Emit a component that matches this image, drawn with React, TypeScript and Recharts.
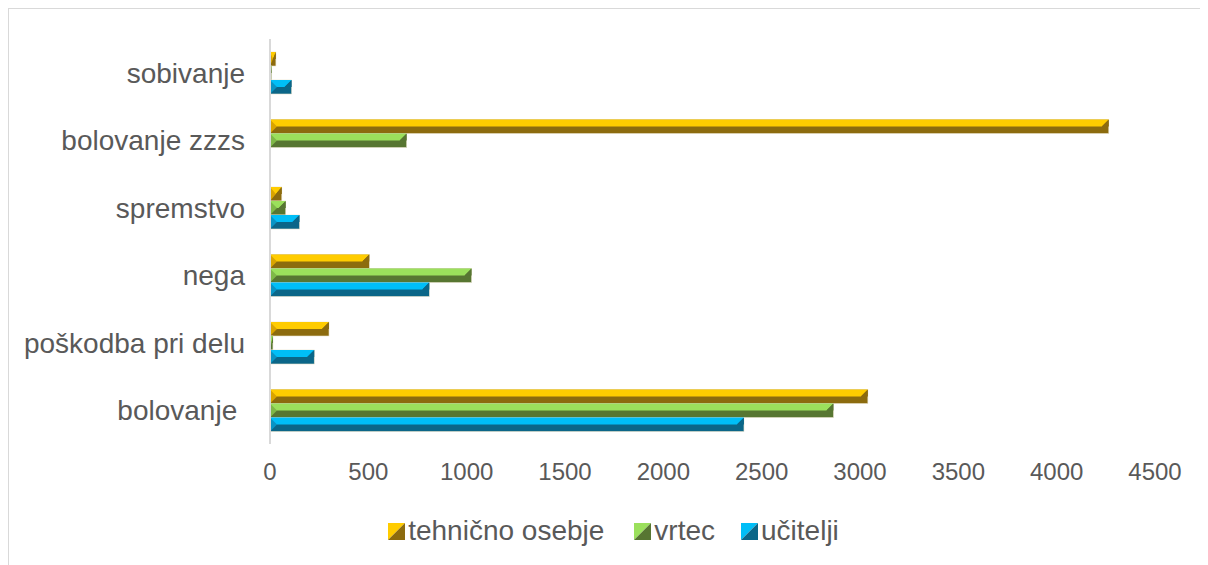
import React from 'react';
import { BarChart, Bar, XAxis, YAxis, Legend } from 'recharts';

const categories = ['sobivanje', 'bolovanje zzzs', 'spremstvo', 'nega', 'poškodba pri delu', 'bolovanje\u00A0'];
const tehnicnoOsebje = [30, 4265, 60, 505, 300, 3040];
const vrtec = [8, 695, 80, 1025, 15, 2865];
const ucitelji = [110, 0, 150, 810, 225, 2410];
const xTicks = [0, 500, 1000, 1500, 2000, 2500, 3000, 3500, 4000, 4500];

const seriesNames = ['tehnično osebje', 'vrtec', 'učitelji'];
const palette = [
  { light: '#FFCC00', dark: '#8C6B0E', mid: '#D9A400' },
  { light: '#9BE05C', dark: '#577632', mid: '#7FB848' },
  { light: '#00BEF7', dark: '#0B6688', mid: '#0894C4' },
];

const data = categories.map((c, i) => ({
  name: c,
  teh: tehnicnoOsebje[i],
  vrtec: vrtec[i],
  uc: ucitelji[i],
}));

const FONT = '"Liberation Sans", Arial, sans-serif';
const TEXT = '#595959';

const makeShape = (p: { light: string; dark: string; mid: string }) => (props: any) => {
  const { x, y, width, height } = props;
  if (!width || width <= 0) return <g />;
  const h = height;
  const b = Math.min(h / 2, width / 2);
  const mY = y + h / 2;
  return (
    <g>
      <rect x={x} y={y} width={width} height={h} fill={p.dark} stroke="#e6e0c8" strokeWidth={0.6} />
      <polygon points={`${x},${y} ${x + width},${y} ${x + width - b},${mY} ${x},${mY}`} fill={p.light} />
      <polygon points={`${x + width},${y} ${x + width},${mY} ${x + width - b},${mY}`} fill={p.dark} />
      <polygon points={`${x},${y} ${x + b},${mY} ${x},${y + h}`} fill={p.mid} />
    </g>
  );
};

const LegendIcon = ({ p }: { p: { light: string; dark: string } }) => (
  <svg width={17} height={17} style={{ marginRight: 3 }}>
    <polygon points="0,0 17,0 0,17" fill={p.light} />
    <polygon points="17,0 17,17 0,17" fill={p.dark} />
  </svg>
);

const legendGaps = [30, 26, 0];

const renderLegend = () => (
  <div style={{ height: 32, paddingLeft: 10, display: 'flex', justifyContent: 'center', alignItems: 'center', fontFamily: FONT, fontSize: 28, color: TEXT }}>
    {seriesNames.map((n, i) => (
      <div key={n} style={{ display: 'flex', alignItems: 'center', marginRight: legendGaps[i] }}>
        <LegendIcon p={palette[i]} />
        <span>{n}</span>
      </div>
    ))}
  </div>
);

export default function App() {
  return (
    <div style={{ width: 1200, height: 557, borderTop: '1px solid #d9d9d9', borderLeft: '1px solid #d9d9d9', boxSizing: 'border-box', position: 'relative', overflow: 'hidden' }}>
      <BarChart
        width={1199}
        height={556}
        data={data}
        layout="vertical"
        margin={{ top: 30, right: 53, bottom: 0, left: 0 }}
        barGap={0}
        barSize={14}
      >
        <XAxis
          type="number"
          domain={[0, 4500]}
          ticks={xTicks}
          axisLine={false}
          tickLine={false}
          tickSize={0}
          tickMargin={19}
          height={89}
          tick={{ fill: TEXT, fontSize: 24, fontFamily: FONT }}
        />
        <YAxis
          type="category"
          dataKey="name"
          width={261}
          axisLine={{ stroke: '#d9d9d9', strokeWidth: 2 }}
          tickLine={false}
          tickSize={0}
          tickMargin={25}
          interval={0}
          tick={{ fill: TEXT, fontSize: 28, fontFamily: FONT }}
        />
        <Legend content={renderLegend} wrapperStyle={{ top: 506, left: 0, width: 1199 }} />
        <Bar dataKey="teh" name={seriesNames[0]} shape={makeShape(palette[0])} isAnimationActive={false} />
        <Bar dataKey="vrtec" name={seriesNames[1]} shape={makeShape(palette[1])} isAnimationActive={false} />
        <Bar dataKey="uc" name={seriesNames[2]} shape={makeShape(palette[2])} isAnimationActive={false} />
      </BarChart>
    </div>
  );
}
